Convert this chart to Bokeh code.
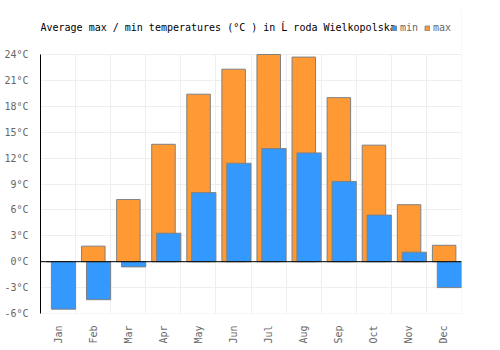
import numpy as np
from bokeh.plotting import figure
from bokeh.models import (ColumnDataSource, Range1d, FixedTicker, PrintfTickFormatter,
                          Span, Legend, LegendItem, Label, BoxAnnotation)
from bokeh.embed import file_html
from bokeh.resources import INLINE

months = ["Jan", "Feb", "Mar", "Apr", "May", "Jun", "Jul", "Aug", "Sep", "Oct", "Nov", "Dec"]
t_max = [0.0, 1.8, 7.2, 13.6, 19.4, 22.3, 24.0, 23.7, 19.0, 13.5, 6.6, 1.9]
t_min = [-5.5, -4.4, -0.6, 3.3, 8.0, 11.4, 13.1, 12.6, 9.3, 5.4, 1.1, -3.0]
y_ticks = [-6, -3, 0, 3, 6, 9, 12, 15, 18, 21, 24]

title = "Average max / min temperatures (°C ) in Ĺ roda Wielkopolska"
FONT = "DejaVu Sans Mono"

# layout (pixels)
W, H = 500, 350
LEFT, RIGHT, TOP, BOTTOM = 40, 39, 10, 37
PLOT_PX = 259          # pixel height of the -6..24 band
y_lo, y_hi = y_ticks[0], y_ticks[-1]
u_per_px = (y_hi - y_lo) / PLOT_PX
frame_px = H - TOP - BOTTOM
y_top = y_lo + frame_px * u_per_px

idx = np.arange(len(months))
src = ColumnDataSource(dict(
    month=months,
    xmax=idx + 0.505,
    xmin=idx + 0.655,
    tmax=t_max,
    tmin=t_min,
))

p = figure(width=W, height=H, output_backend="svg", toolbar_location=None,
           x_range=Range1d(0, len(months)), y_range=Range1d(y_lo, y_top),
           min_border_left=LEFT, min_border_right=RIGHT,
           min_border_top=TOP, min_border_bottom=BOTTOM)
p.outline_line_color = None
p.background_fill_color = "white"
p.border_fill_color = "white"

# grids
p.xgrid.ticker = FixedTicker(ticks=list(range(len(months) + 1)))
p.xgrid.grid_line_color = "#eeeeee"
p.ygrid.grid_line_color = "#eeeeee"
p.add_layout(Span(location=len(months), dimension="height", line_color="#eeeeee",
                  line_width=1, level="underlay"))
p.add_layout(Span(location=y_lo, dimension="width", line_color="#eeeeee",
                  line_width=1, level="underlay"))
# blank band above the value area (holds title and legend)
p.add_layout(BoxAnnotation(bottom=y_hi + 0.06, fill_color="white", fill_alpha=1,
                           line_color=None, level="underlay"))

r_max = p.vbar(x="xmax", width=0.67, top="tmax", bottom=0, source=src,
               fill_color="#ff9933", line_color="#808080", line_width=1)
r_min = p.vbar(x="xmin", width=0.69, top="tmin", bottom=0, source=src,
               fill_color="#3399ff", line_color="#808080", line_width=1)

p.add_layout(Span(location=0, dimension="width", line_color="black", line_width=1))

# axes
p.yaxis.ticker = FixedTicker(ticks=y_ticks)
p.yaxis.bounds = (y_lo, y_hi)
p.yaxis.formatter = PrintfTickFormatter(format="%d°C")
p.yaxis.major_tick_line_color = None
p.yaxis.minor_tick_line_color = None
p.yaxis.axis_line_color = "black"
p.yaxis.major_label_text_font = FONT
p.yaxis.major_label_text_font_size = "10px"
p.yaxis.major_label_text_color = "#666666"
p.yaxis.major_label_standoff = 6

p.xaxis.ticker = FixedTicker(ticks=list(idx + 0.5))
p.xaxis.major_label_overrides = {float(i + 0.5): m for i, m in enumerate(months)}
p.xaxis.major_label_orientation = np.pi / 2
p.xaxis.major_tick_line_color = None
p.xaxis.minor_tick_line_color = None
p.xaxis.axis_line_color = None
p.xaxis.major_label_text_font = FONT
p.xaxis.major_label_text_font_size = "10px"
p.xaxis.major_label_text_color = "#666666"
p.xaxis.major_label_standoff = 6

# title (27 px above the top of the value band)
p.add_layout(Label(x=0, y=y_hi + 27 * u_per_px, text=title, text_font=FONT,
                   text_font_size="10px", text_color="#000000",
                   text_align="left", text_baseline="middle"))

legend = Legend(items=[LegendItem(label="min", renderers=[r_min]),
                       LegendItem(label="max", renderers=[r_max])],
                location=(351, 280), orientation="horizontal",
                glyph_width=6, glyph_height=6, label_standoff=3, spacing=6,
                label_width=18,
                padding=0, margin=0, border_line_color=None,
                background_fill_alpha=0,
                label_text_font=FONT, label_text_font_size="10px",
                label_text_color="#666666")
p.add_layout(legend)

open("out.html", "w").write(file_html(p, INLINE))
